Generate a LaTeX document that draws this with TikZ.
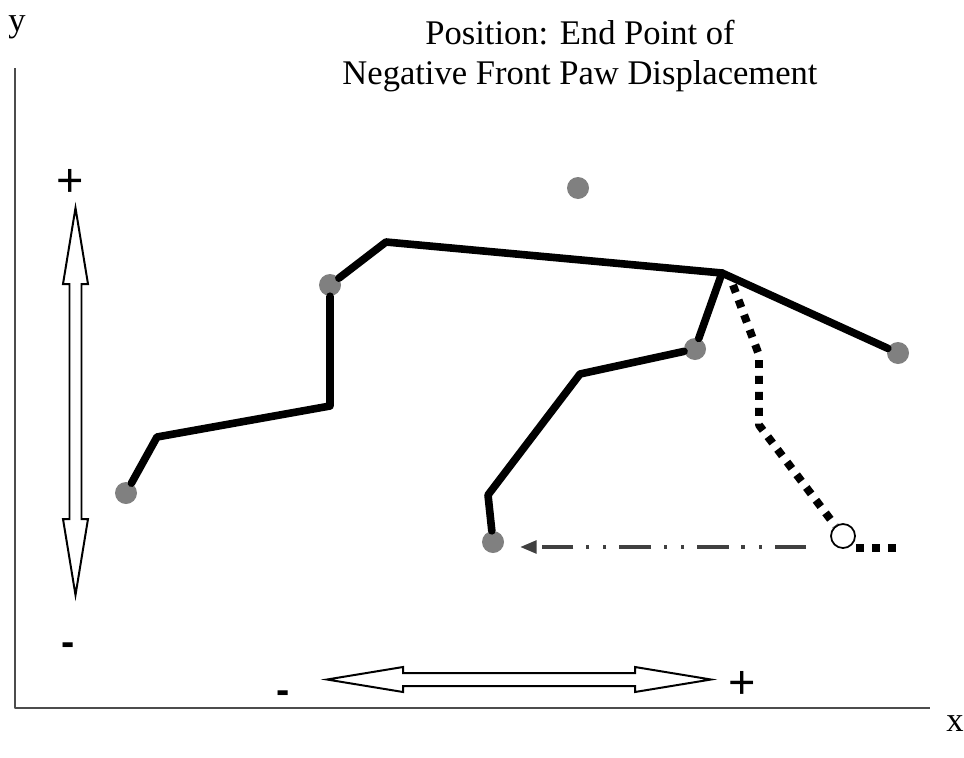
\documentclass[tikz,border=0pt]{standalone}
\usepackage{fontspec}
\setmainfont{Liberation Serif}
\newfontfamily\signfont{Liberation Sans}
\usetikzlibrary{arrows.meta, calc}
\definecolor{cjoint}{HTML}{808080}
\definecolor{cpath}{HTML}{404040}
\tikzset{
  every picture/.style={line join=round},
  lbl/.style={font=\fontsize{29.5}{34}\selectfont, inner sep=0pt, align=center},
  sgn/.style={font=\signfont\bfseries\fontsize{34}{36}\selectfont, inner sep=0pt},
  plus/.style={font=\signfont\fontsize{40}{40}\selectfont, inner sep=0pt},
  joint/.style={circle, fill=cjoint, minimum size=22*0.03cm, inner sep=0pt},
  bone/.style={line width=6.5pt, line cap=round},
  swing/.style={line width=6.8pt, dash pattern=on 6.8pt off 6.8pt},
  hollow/.style={draw, fill=white, line width=1.7pt, line join=miter},
  axis/.style={draw=black!70, line width=0.9pt},
  move/.style={draw=cpath, line width=2.6pt,
    dash pattern=on 27pt off 11pt on 2.6pt off 12pt on 2.6pt off 11pt,
    -{Triangle[length=14pt, width=11pt]}},
}
\begin{document}
\begin{tikzpicture}[x=0.03cm, y=-0.03cm]
  \useasboundingbox (0,0) rectangle (964,757);
  % axes
  \coordinate (o) at (15,708);
  \coordinate (ytop) at (15,68);
  \coordinate (xend) at (930,708);
  \draw[axis] (ytop) -- (o) -- (xend);
  \node[lbl] (ylab) at (17,27) {y};
  \node[lbl] (xlab) at (955,724) {x};
  \node[lbl] (title) at (580,56) {Position: End Point of\\Negative Front Paw Displacement};
  % direction arrows
  \draw[hollow] (75.5,208) -- (88,284) -- (81.5,284) -- (81.5,519) -- (88,519) -- (75.5,595)
    -- (63,519) -- (69.5,519) -- (69.5,284) -- (63,284) -- cycle;
  \draw[hollow] (327,679.5) -- (403,667) -- (403,673) -- (635,673) -- (635,667) -- (711,679.5)
    -- (635,692) -- (635,686) -- (403,686) -- (403,692) -- cycle;
  \node[plus] (yplus) at (70,183) {+};
  \node[sgn] (yminus) at (68,649) {-};
  \node[sgn] (xminus) at (283,697) {-};
  \node[plus] (xplus) at (742,685) {+};
  % skeleton
  \coordinate (hknee) at (157,437);
  \coordinate (hip) at (330,406);
  \coordinate (back) at (386,242);
  \coordinate (sh) at (722,273);
  \coordinate (elbow) at (580,374);
  \coordinate (wrist) at (488,495);
  \node[joint] (hpaw) at (126,493) {};
  \node[joint] (tail) at (330,285) {};
  \node[joint] (top) at (578,188) {};
  \node[joint] (head) at (898,353) {};
  \node[joint] (fknee) at (695,349) {};
  \node[joint] (fpaw) at (493,542) {};
  \draw[bone] (hpaw) -- (hknee) -- (hip) -- (tail) -- (back) -- (sh) -- (head);
  \draw[bone] (sh) -- (fknee) -- (elbow) -- (wrist) -- (fpaw);
  % old paw position
  \coordinate (s1) at (733,285);
  \coordinate (s2) at (759,355);
  \coordinate (s3) at (759,425);
  \coordinate (tip) at (898,548);
  \node[circle, draw, line width=1.5pt, minimum size=24*0.03cm, inner sep=0pt] (old) at (843,536) {};
  \draw[swing] (s1) -- (s2) -- (s3) -- (old);
  \draw[swing] (old.east |- tip) -- (tip);
  \draw[move] ($(old.west)+(-24,11)$) -- ($(fpaw.east)+(16,5)$);
\end{tikzpicture}
\end{document}
